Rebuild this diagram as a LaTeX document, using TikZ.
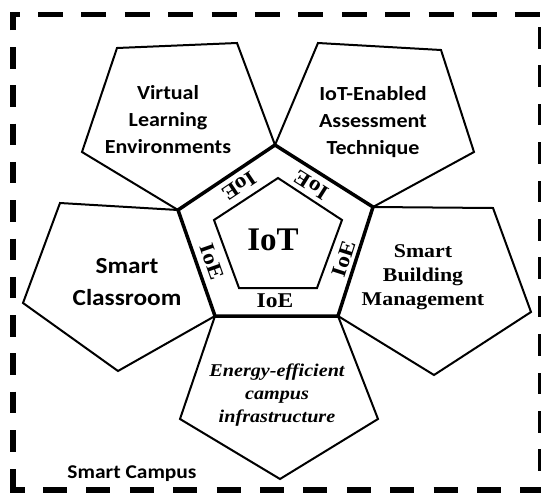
\documentclass[tikz,border=0pt]{standalone}
\usepackage{fontspec}
\setmainfont{Liberation Serif}
\newfontfamily\sansw[FakeStretch=1.1]{Carlito}
\newfontfamily\serifw[FakeStretch=1.12]{Liberation Serif}
\newfontfamily\serifn{Liberation Serif}
\begin{document}
\begin{tikzpicture}[x=1pt,y=-1pt,
  petal/.style={draw=black, line width=2pt, line join=miter},
  hub/.style={draw=black, line width=3.5pt, line join=miter},
  core/.style={draw=black, line width=2pt, line join=miter},
  bord/.style={draw=black, line width=5.5pt, line cap=butt},
  sanstxt/.style={align=center, inner sep=0pt, font=\sansw\bfseries\fontsize{20}{27}\selectfont},
  bigsans/.style={align=center, inner sep=0pt, font=\sansw\bfseries\fontsize{23}{32}\selectfont},
  seriftxt/.style={align=center, inner sep=0pt, font=\serifw\bfseries\fontsize{19.5}{24}\selectfont},
  italtxt/.style={align=center, inner sep=0pt, font=\serifw\bfseries\itshape\fontsize{18}{23}\selectfont},
  ioe/.style={inner sep=0pt, font=\serifw\bfseries\fontsize{21}{21}\selectfont},
  iot/.style={inner sep=0pt, font=\serifn\bfseries\fontsize{33}{33}\selectfont},
  campus/.style={inner sep=0pt, anchor=center, font=\sansw\bfseries\fontsize{19.5}{20}\selectfont}
]
\useasboundingbox (0,0) rectangle (541,493);

% central pentagon vertices
\coordinate (cT) at (275,145);
\coordinate (cUR) at (373,207);
\coordinate (cLR) at (338,316);
\coordinate (cLL) at (215,316);
\coordinate (cUL) at (178,210);
% inner pentagon
\coordinate (iT) at (278,178);
\coordinate (iUR) at (342,220);
\coordinate (iLR) at (317,288);
\coordinate (iLL) at (239,288);
\coordinate (iUL) at (214,220);

% outer pentagons
\draw[petal] (117,48) -- (237,43) -- (cT) -- (cUL) -- (82,152) -- cycle;
\draw[petal] (318,43) -- (441,50) -- (474,152) -- (cUR) -- (cT) -- cycle;
\draw[petal] (60,203) -- (cUL) -- (cLL) -- (118,371) -- (23,303) -- cycle;
\draw[petal] (cUR) -- (493,208) -- (531,312) -- (434,375) -- (cLR) -- cycle;
\draw[petal] (cLL) -- (cLR) -- (378,419) -- (280,479) -- (180,419) -- cycle;

% central and inner
\draw[hub] (cT) -- (cUR) -- (cLR) -- (cLL) -- (cUL) -- cycle;
\draw[core] (iT) -- (iUR) -- (iLR) -- (iLL) -- (iUL) -- cycle;

% texts
\node[sanstxt] (vle) at (168,120) {Virtual\\Learning\\Environments};
\node[sanstxt] (iea) at (373,122) {IoT-Enabled\\Assessment\\Technique};
\node[bigsans] (sc) at (127,282) {Smart\\Classroom};
\node[seriftxt] (sbm) at (423,277) {Smart\\Building\\Management};
\node[italtxt] (eec) at (277,395) {Energy-efficient\\campus\\infrastructure};
\node[iot] (iotlab) at (273,240) {IoT};

\node[ioe, rotate=213.8] (ioe1) at (239,186) {IoE};
\node[ioe, rotate=147.7] (ioe2) at (311,185) {IoE};
\node[ioe, rotate=-70.7] (ioe3) at (212,262) {IoE};
\node[ioe, rotate=72.2] (ioe4) at (344,259) {IoE};
\node[ioe] (ioe5) at (275,301) {IoE};

\node[campus] (camp) at (132,474) {Smart Campus};

% dashed border
\draw[bord] (13,30) -- (13,14.5) -- (20,14.5);
\draw[bord, dash pattern=on 25 off 18.4] (38,14.5) -- (541,14.5);
\draw[bord, dash pattern=on 21.5 off 16.8] (13,47) -- (13,455);
\draw[bord] (13,469) -- (13,490) -- (25,490);
\draw[bord, dash pattern=on 24 off 19.4] (43,490) -- (541,490);
\draw[bord, dash pattern=on 21.5 off 16.9] (541,27) -- (541,480);
\end{tikzpicture}
\end{document}
